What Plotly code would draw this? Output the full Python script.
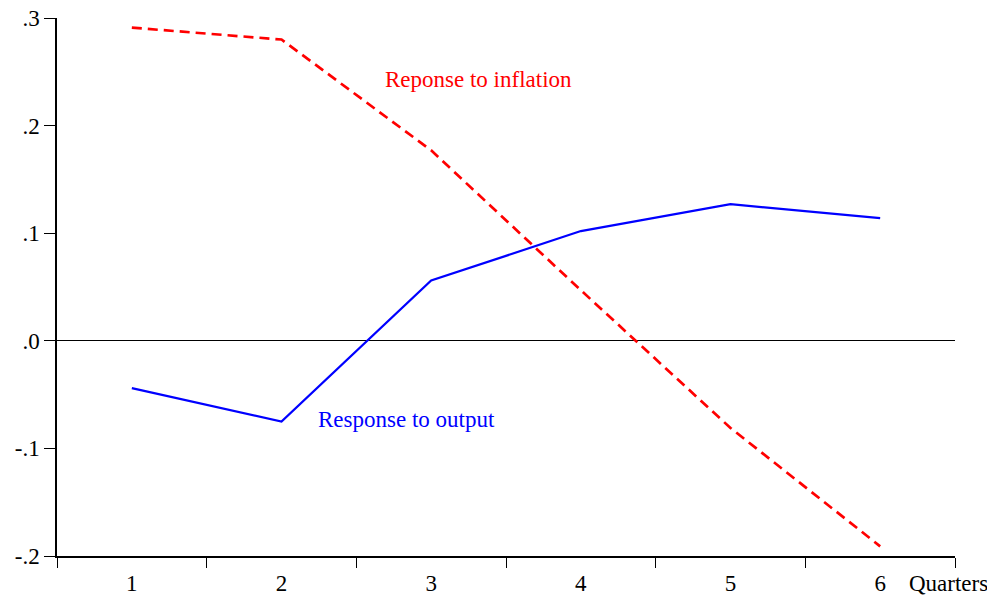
import plotly.graph_objects as go

quarters = ["1", "2", "3", "4", "5", "6"]
resp_inflation = [0.291, 0.280, 0.177, 0.047, -0.081, -0.191]
resp_output = [-0.044, -0.075, 0.056, 0.102, 0.127, 0.114]
y_tickvals = [-0.2, -0.1, 0.0, 0.1, 0.2, 0.3]
y_ticktext = ["-.2", "-.1", ".0", ".1", ".2", ".3"]

FONT = "Liberation Serif"
FS = 23

fig = go.Figure()
fig.add_trace(go.Scatter(x=quarters, y=resp_output, mode="lines",
                         line=dict(color="#0000FF", width=2.2), name="Response to output"))
fig.add_trace(go.Scatter(x=quarters, y=resp_inflation, mode="lines",
                         line=dict(color="#FF0000", width=2.7, dash="10px,6px"),
                         name="Reponse to inflation"))

fig.update_layout(
    width=987, height=590,
    margin=dict(l=49, r=40, t=10, b=42, autoexpand=False),
    paper_bgcolor="white", plot_bgcolor="white",
    showlegend=False,
    font=dict(family=FONT, size=FS, color="black"),
    xaxis=dict(type="category", tickson="boundaries", ticks="outside", ticklen=10,
               tickwidth=1, tickcolor="black", showline=True, linecolor="black", linewidth=1.5,
               showgrid=False, zeroline=False, tickfont=dict(family=FONT, size=FS),
               ticklabelstandoff=6, ticklabeloverflow="allow", range=[-0.5, 5.5]),
    yaxis=dict(range=[-0.2, 0.3], tickvals=y_tickvals, ticktext=y_ticktext,
               ticks="outside", ticklen=11, tickwidth=1, tickcolor="black",
               showline=True, linecolor="black", linewidth=1.5,
               showgrid=False, zeroline=True, zerolinecolor="black", zerolinewidth=1,
               ticklabeloverflow="allow", tickfont=dict(family=FONT, size=FS)),
    annotations=[
        dict(text="Reponse to inflation", xref="paper", yref="paper", x=0.363, y=0.885,
             xanchor="left", yanchor="middle", showarrow=False,
             font=dict(family=FONT, size=FS, color="#FF0000")),
        dict(text="Response to output", xref="paper", yref="paper", x=0.2884, y=0.2546,
             xanchor="left", yanchor="middle", showarrow=False,
             font=dict(family=FONT, size=FS, color="#0000FF")),
        dict(text="Quarters", xref="paper", yref="paper", x=0.9465, y=-0.052,
             xanchor="left", yanchor="middle", showarrow=False,
             font=dict(family=FONT, size=FS, color="black")),
    ],
)

fig.write_html("out.html")
